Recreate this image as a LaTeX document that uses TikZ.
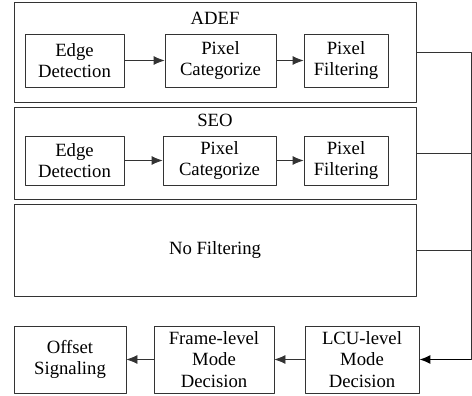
\documentclass[tikz,border=0pt]{standalone}
\usepackage{fontspec}
\setmainfont{Liberation Serif}
\usetikzlibrary{arrows.meta}
\usetikzlibrary{positioning}

\tikzset{
  blockbox/.style={rectangle,draw=black!80,line width=0.8pt,align=center,inner sep=0pt},
  groupbox/.style={rectangle,draw=black!80,line width=0.8pt,inner sep=0pt},
}

\begin{document}
\begin{tikzpicture}[x=1pt,y=-1pt,>={Latex[length=11pt,width=9pt]},line join=bevel,
  font=\fontsize{18.7}{21.5}\selectfont]
        \useasboundingbox (0,0) rectangle (472,396);
        %
        \node (adef) at (215,52) [groupbox,minimum width=402,minimum height=100] {};
        \node (adeftitle) at (215,18) {ADEF};
        \node (edgeA) at (74.5,60.5) [blockbox,minimum width=99,minimum height=53] {Edge\\Detection};
        \node (catA) at (220.5,60.5) [blockbox,minimum width=111,minimum height=53] {Pixel\\Categorize};
        \node (filtA) at (346,60.5) [blockbox,minimum width=84,minimum height=53] {Pixel\\Filtering};
        %
        \node (seo) at (215,153) [groupbox,minimum width=402,minimum height=92] {};
        \node (seotitle) at (215,120) {SEO};
        \node (edgeS) at (74.5,160.5) [blockbox,minimum width=99,minimum height=49] {Edge\\Detection};
        \node (catS) at (219.5,160.5) [blockbox,minimum width=113,minimum height=49] {Pixel\\Categorize};
        \node (filtS) at (346,160.5) [blockbox,minimum width=84,minimum height=49] {Pixel\\Filtering};
        %
        \node (nofilt) at (215,250) [blockbox,minimum width=402,minimum height=92] {No Filtering};
        %
        \node (offset) at (70,359.5) [blockbox,minimum width=112,minimum height=67] {Offset\\Signaling};
        \node (frame) at (214,359.5) [blockbox,minimum width=120,minimum height=67] {Frame-level\\Mode\\Decision};
        \node (lcu) at (362,359.5) [blockbox,minimum width=114,minimum height=67] {LCU-level\\Mode\\Decision};
        %
        \coordinate (bus) at (471,52);
        %
        \draw [color=black!80,line width=0.8pt,->] (edgeA) to (catA);
        \draw [color=black!80,line width=0.8pt,->] (catA) to (filtA);
        \draw [color=black!80,line width=0.8pt,->] (edgeS) to (catS);
        \draw [color=black!80,line width=0.8pt,->] (catS) to (filtS);
        \draw [color=black!80,line width=0.8pt] (adef.east) -- (bus) -- (bus |- lcu.east);
        \draw [color=black!80,line width=0.8pt] (seo.east) -- (seo.east -| bus);
        \draw [color=black!80,line width=0.8pt] (nofilt.east) -- (nofilt.east -| bus);
        \draw [color=black,line width=1.4pt,->] (bus |- lcu.east) -- (lcu.east);
        \draw [color=black!80,line width=0.8pt,->] (lcu) to (frame);
        \draw [color=black!80,line width=0.8pt,->] (frame) to (offset);
        %
\end{tikzpicture}
\end{document}
